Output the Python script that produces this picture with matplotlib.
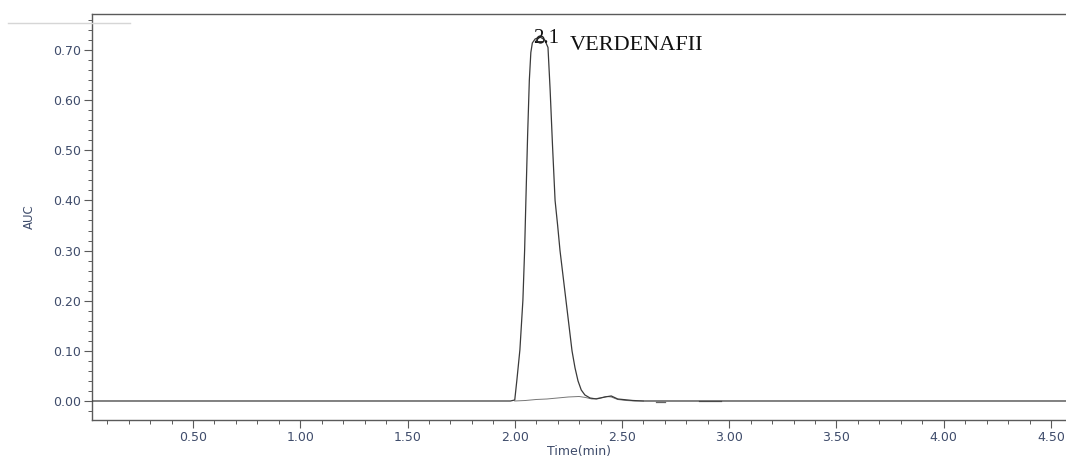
import numpy as np
import matplotlib
matplotlib.use('Agg')
import matplotlib.pyplot as plt
from matplotlib.ticker import MultipleLocator, FormatStrFormatter
from matplotlib.lines import Line2D

# sample trace (time in min, AUC)
t_main = [0.03, 1.98, 2.000, 2.010, 2.024, 2.038, 2.046, 2.052, 2.060, 2.068,
          2.075, 2.082, 2.095, 2.118, 2.140, 2.155, 2.165, 2.176, 2.188, 2.200,
          2.211, 2.225, 2.239, 2.253, 2.267, 2.281, 2.295, 2.310, 2.327, 2.351,
          2.380, 2.420, 2.450, 2.480, 2.550, 2.600, 4.57]
auc_main = [0.0, 0.0, 0.002, 0.042, 0.102, 0.201, 0.300, 0.401, 0.530, 0.640,
            0.695, 0.714, 0.722, 0.726, 0.720, 0.705, 0.620, 0.510, 0.400, 0.350,
            0.300, 0.250, 0.200, 0.150, 0.100, 0.066, 0.040, 0.022, 0.012, 0.006,
            0.004, 0.008, 0.010, 0.004, 0.001, 0.0, 0.0]

# blank / overlay trace near the baseline
t_blank = [2.00, 2.05, 2.10, 2.15, 2.20, 2.25, 2.30, 2.33, 2.36, 2.40,
           2.43, 2.45, 2.48, 2.52, 2.56, 2.60]
auc_blank = [0.000, 0.001, 0.003, 0.004, 0.006, 0.008, 0.009, 0.007, 0.004, 0.006,
             0.009, 0.008, 0.003, 0.001, 0.000, 0.000]

# short dashes after the peak
t_frag = [[2.66, 2.70], [2.86, 2.96]]
auc_frag = [[-0.002, -0.002], [-0.001, -0.001]]

apex_t, apex_auc = 2.118, 0.722
peak_label = '2.1'
peak_name = 'VERDENAFII'

tick_col = '#3f4c6b'
spine_col = '#5a5a5a'

fig = plt.figure(figsize=(10.66, 4.59), dpi=100)
ax = fig.add_axes([92/1066, 1-420/459, 1-92/1066, (420-14)/459])

ax.plot(t_main, auc_main, color='#3a3a3a', lw=0.9, zorder=3)
ax.plot(t_blank, auc_blank, color='#777777', lw=0.7, zorder=2)
for tf, af in zip(t_frag, auc_frag):
    ax.plot(tf, af, color='#666666', lw=0.9)

ax.plot([apex_t], [apex_auc], marker='o', ms=5, mfc='none', mec='#222222',
        mew=1.0, zorder=4)
ax.text(2.085, 0.714, peak_label, family='Liberation Serif',
        fontsize=15, ha='left', va='baseline', color='#111111')
ax.text(2.258, 0.700, peak_name, family='Liberation Serif',
        fontsize=16, ha='left', va='baseline', color='#111111')

ax.set_xlim(0.0291, 4.570)
ax.set_ylim(-0.0379, 0.7718)

ax.xaxis.set_major_locator(MultipleLocator(0.5))
ax.xaxis.set_minor_locator(MultipleLocator(0.1))
ax.yaxis.set_major_locator(MultipleLocator(0.1))
ax.yaxis.set_minor_locator(MultipleLocator(0.02))
ax.xaxis.set_major_formatter(FormatStrFormatter('%.2f'))
ax.yaxis.set_major_formatter(FormatStrFormatter('%.2f'))
ax.set_xticks([0.5, 1.0, 1.5, 2.0, 2.5, 3.0, 3.5, 4.0, 4.5])

ax.tick_params(axis='both', which='major', direction='out', length=6,
               width=0.8, color=spine_col, labelsize=9, labelcolor=tick_col, pad=2)
ax.tick_params(axis='both', which='minor', direction='out', length=3,
               width=0.7, color=spine_col)

ax.spines['right'].set_visible(False)
for s in ['left', 'bottom', 'top']:
    ax.spines[s].set_color(spine_col)
    ax.spines[s].set_linewidth(1.0)

ax.set_xlabel('Time(min)', fontsize=9, color=tick_col, labelpad=1)
ax.set_ylabel('AUC', fontsize=8.5, color=tick_col, labelpad=12)

# faint stray rule in the top-left corner
fig.add_artist(Line2D([8/1066, 130/1066], [1-23/459, 1-23/459],
                      color='#d6d6d6', lw=1.0))

fig.savefig('out.png', dpi=100)
